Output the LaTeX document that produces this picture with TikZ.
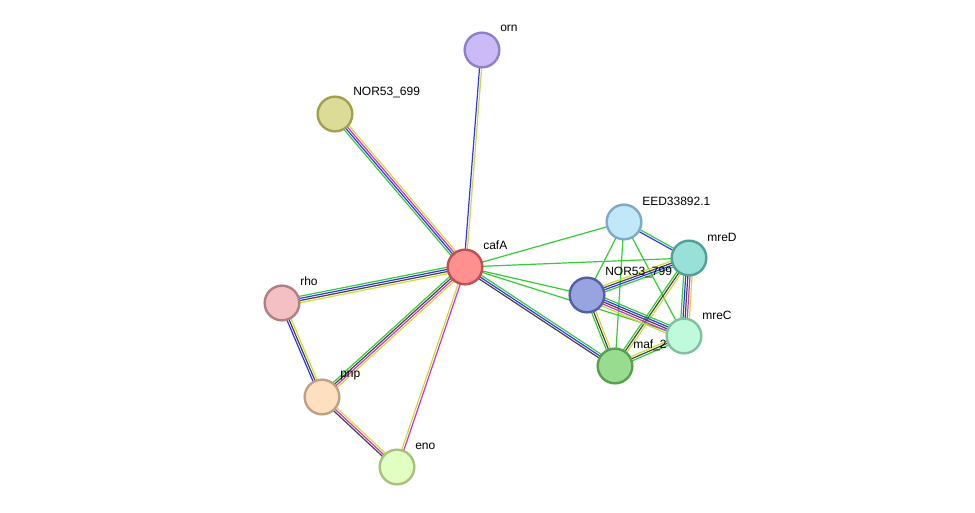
\documentclass[tikz,border=0pt]{standalone}
\usepackage{fontspec}
\setmainfont{Liberation Sans}
\usetikzlibrary{calc,backgrounds}
\definecolor{eg}{HTML}{33CC33}
\definecolor{eb}{HTML}{3333FF}
\definecolor{em}{HTML}{CC33CC}
\definecolor{ey}{HTML}{CCDD33}
\definecolor{ek}{HTML}{444444}
\definecolor{fA}{HTML}{cbbaf7}\definecolor{bA}{HTML}{9080c8}
\definecolor{fB}{HTML}{dcdc96}\definecolor{bB}{HTML}{a0a050}
\definecolor{fC}{HTML}{ff9090}\definecolor{bC}{HTML}{c05050}
\definecolor{fD}{HTML}{f4c0c4}\definecolor{bD}{HTML}{b08080}
\definecolor{fE}{HTML}{fde0c0}\definecolor{bE}{HTML}{c0a080}
\definecolor{fF}{HTML}{e0ffc0}\definecolor{bF}{HTML}{a8c080}
\definecolor{fG}{HTML}{c0e8fa}\definecolor{bG}{HTML}{80a8c8}
\definecolor{fH}{HTML}{98e0d8}\definecolor{bH}{HTML}{50a098}
\definecolor{fI}{HTML}{98a4e0}\definecolor{bI}{HTML}{5060a0}
\definecolor{fJ}{HTML}{c0fadc}\definecolor{bJ}{HTML}{80c0a0}
\definecolor{fK}{HTML}{98dc90}\definecolor{bK}{HTML}{58a050}
\newcommand\medge[4]{%
  \foreach \c [count=\i] in {#4} {%
    \pgfmathsetmacro\oo{(\i-(#3+1)/2)*1.6}
    \draw[\c,line width=0.9pt] ($(#1)!\oo pt!90:(#2)$) -- ($(#2)!\oo pt!-90:(#1)$);
  }}
\begin{document}
\begin{tikzpicture}[x=0.75pt,y=-0.75pt,
  prot/.style={circle,draw=b#1,fill=f#1,line width=1.8pt,minimum size=26pt,inner sep=0pt},
  lab/.style={anchor=west,font=\fontsize{9}{10}\selectfont,inner sep=0pt}]
\useasboundingbox (0,0) rectangle (975,513);
\node[prot=A] (orn) at (482,50) {};
\node[prot=B] (n699) at (335,114) {};
\node[prot=C] (caf) at (465,267) {};
\node[prot=D] (rho) at (282,303) {};
\node[prot=E] (pnp) at (322,397) {};
\node[prot=F] (eno) at (397,467) {};
\node[prot=G] (eed) at (624,222) {};
\node[prot=H] (mred) at (689,258) {};
\node[prot=I] (n799) at (587,295) {};
\node[prot=J] (mrec) at (684,336) {};
\node[prot=K] (maf) at (615,366) {};
\begin{pgfonlayer}{background}
\medge{orn}{caf}{2}{eb,ey}
\medge{n699}{caf}{4}{eg,eb,em,ey}
\medge{rho}{caf}{4}{ey,ek,eb,eg}
\medge{rho}{pnp}{3}{eb,ek,ey}
\medge{pnp}{caf}{4}{ey,em,ek,eg}
\medge{pnp}{eno}{3}{ek,em,ey}
\medge{eno}{caf}{2}{em,ey}
\medge{caf}{eed}{1}{eg}
\medge{caf}{mred}{1}{eg}
\medge{caf}{n799}{1}{eg}
\medge{caf}{mrec}{1}{eg}
\medge{caf}{maf}{3}{ek,eb,eg}
\medge{eed}{mred}{2}{eb,eg}
\medge{eed}{n799}{1}{eg}
\medge{eed}{maf}{1}{eg}
\medge{eed}{mrec}{1}{eg}
\medge{mred}{n799}{4}{ey,ek,eb,eg}
\medge{mred}{maf}{3}{eg,ek,ey}
\medge{mred}{mrec}{5}{eg,eb,ek,em,ey}
\medge{n799}{mrec}{5}{ey,em,ek,eb,eg}
\medge{n799}{maf}{3}{eg,ek,ey}
\medge{maf}{mrec}{3}{eg,ek,ey}
\end{pgfonlayer}
\node[lab] (lorn) at (500,28) {orn};
\node[lab] (l699) at (353,93) {NOR53\_699};
\node[lab] (lcaf) at (483,245) {cafA};
\node[lab] (lrho) at (300,281) {rho};
\node[lab] (lpnp) at (340,376) {pnp};
\node[lab] (leno) at (415,446) {eno};
\node[lab] (leed) at (642,201) {EED33892.1};
\node[lab] (lmred) at (707,237) {mreD};
\node[lab] (l799) at (605,273) {NOR53\_799};
\node[lab] (lmrec) at (702,315) {mreC};
\node[lab] (lmaf) at (633,345) {maf\_2};
\end{tikzpicture}
\end{document}
